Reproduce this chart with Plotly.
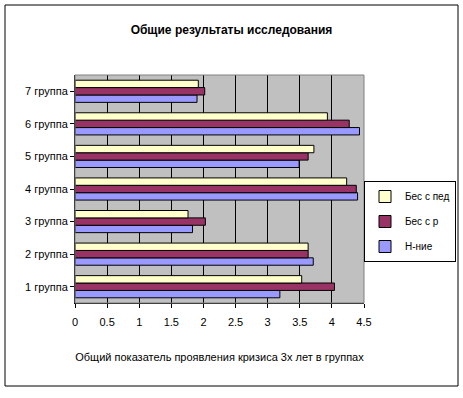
import plotly.graph_objects as go

categories = ["1 группа", "2 группа", "3 группа", "4 группа", "5 группа", "6 группа", "7 группа"]
series_names = ["Н-ние", "Бес с р", "Бес с пед"]
n_nie = [3.19, 3.71, 1.83, 4.40, 3.49, 4.43, 1.90]
bes_s_r = [4.04, 3.63, 2.03, 4.38, 3.63, 4.27, 2.02]
bes_s_ped = [3.53, 3.63, 1.76, 4.23, 3.72, 3.93, 1.92]
x_ticks = [0, 0.5, 1, 1.5, 2, 2.5, 3, 3.5, 4, 4.5]
x_tick_labels = ["0", "0.5", "1", "1.5", "2", "2.5", "3", "3.5", "4", "4.5"]

colors = ["#9999FF", "#993366", "#FFFFCC"]
legend_ranks = [3, 2, 1]
FONT = "Liberation Sans Narrow, Arial Narrow, Liberation Sans, Arial, sans-serif"

fig = go.Figure()
for name, vals, col, rank in zip(series_names, [n_nie, bes_s_r, bes_s_ped], colors, legend_ranks):
    fig.add_trace(go.Bar(
        y=categories, x=vals, name=name, orientation="h", legendgroup=name,
        legendrank=rank,
        marker=dict(color=col, line=dict(color="black", width=1)),
    ))

W, H = 463, 398
L, R, T, B = 75, 99, 75, 95
pw, ph = W - L - R, H - T - B

def px2paper_x(px):
    return (px - L) / pw

def py2paper_y(py):
    return 1 - (py - T) / ph

fig.update_layout(
    width=W, height=H,
    margin=dict(l=L, r=R, t=T, b=B, autoexpand=False),
    paper_bgcolor="white",
    plot_bgcolor="#C0C0C0",
    barmode="group",
    bargap=0.32,
    bargroupgap=0,
    font=dict(family=FONT, size=11, color="black"),
    title=dict(text="<b>Общие результаты исследования</b>", x=0.5, xanchor="center",
               y=1 - 30 / H, yanchor="middle", font=dict(family=FONT, size=12)),
    xaxis=dict(range=[0, 4.5], tickvals=x_ticks, ticktext=x_tick_labels,
               showgrid=True, gridcolor="black", gridwidth=1,
               showline=True, linecolor="black", mirror=False,
               ticks="outside", ticklen=4, tickcolor="black",
               ticklabelstandoff=5,
               zeroline=False,
               title=dict(text="Общий показатель проявления кризиса 3х лет в группах",
                          font=dict(size=11), standoff=26)),
    yaxis=dict(categoryorder="array", categoryarray=categories,
               showline=True, linecolor="black", ticks="outside", ticklen=4,
               tickcolor="black", showgrid=False),
    legend=dict(x=px2paper_x(456), y=py2paper_y(181), xanchor="right", yanchor="top",
                bgcolor="white", bordercolor="black", borderwidth=1,
                traceorder="grouped", font=dict(size=10),
                itemwidth=30, tracegroupgap=6),
    shapes=[dict(type="rect", xref="paper", yref="paper",
                 x0=px2paper_x(5), x1=px2paper_x(458),
                 y0=py2paper_y(386), y1=py2paper_y(5),
                 line=dict(color="black", width=1), layer="below"),
            dict(type="rect", xref="paper", yref="paper",
                 x0=0, x1=1, y0=0, y1=1,
                 line=dict(color="#808080", width=1))],
)

fig.write_html("out.html", config={"displayModeBar": False},
               post_script="document.body.style.margin='0';")
